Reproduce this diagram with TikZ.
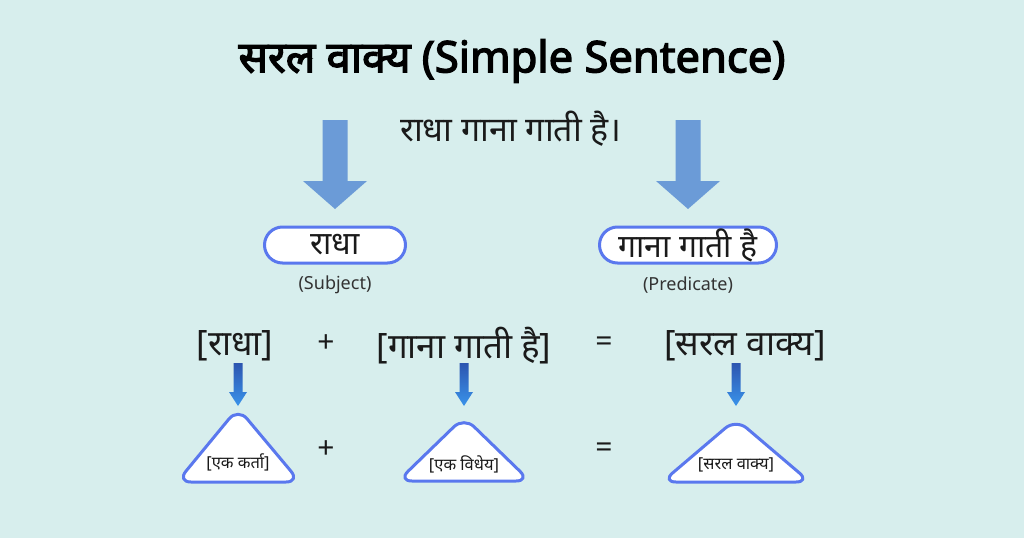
\documentclass[tikz,border=0pt]{standalone}
\usepackage{fontspec}
\setmainfont{Noto Sans}
\newfontfamily\deva[Script=Devanagari]{Noto Sans}
\newfontfamily\devabold[Script=Devanagari,FakeBold=3]{Noto Sans}
\definecolor{bgc}{HTML}{D7EEED}
\definecolor{bigarrow}{HTML}{6B9BD7}
\definecolor{pillblue}{HTML}{5A78EE}
\definecolor{sadark}{HTML}{2C55B0}
\definecolor{salight}{HTML}{3A93EA}
\definecolor{txt}{HTML}{1A1A1A}
\definecolor{subtxt}{HTML}{333333}
\tikzset{
  x=1pt, y=-1pt,
  pill/.style={draw=pillblue, line width=3pt, fill=white, rounded corners=18pt,
    minimum height=36pt, inner sep=0pt, font=\deva\fontsize{32}{36}\selectfont, text=txt},
  sublabel/.style={font=\deva\fontsize{18}{21}\selectfont, text=subtxt},
  rowtext/.style={font=\deva\fontsize{35}{40}\selectfont, text=txt},
  optext/.style={font=\deva\fontsize{30}{34}\selectfont, text=txt},
  tritext/.style={font=\deva\fontsize{16.5}{19}\selectfont, text=txt},
  tri/.style={draw=pillblue, line width=3pt, fill=white, rounded corners=14pt, line join=round},
  bigarr/.style={fill=bigarrow},
  smallarr/.style={top color=sadark, bottom color=salight},
  bigarrowpic/.pic={\fill[bigarr] (-12.5,0)--(12.5,0)--(12.5,61)--(32,61)--(0,89)--(-32,61)--(-12.5,61)--cycle;},
  smallarrowpic/.pic={\shade[smallarr] (-4.5,0)--(4.5,0)--(4.5,29)--(9,29)--(0,43)--(-9,29)--(-4.5,29)--cycle;}
}
\begin{document}
\begin{tikzpicture}
\fill[bgc] (0,0) rectangle (1024,538);
\useasboundingbox (0,0) rectangle (1024,538);

\node[font=\devabold\fontsize{43.5}{50}\selectfont, text=black] (title) at (512,61) {सरल वाक्य (Simple Sentence)};
\node[font=\deva\fontsize{34}{40}\selectfont, text=txt] (sentence) at (511,129) {राधा गाना गाती है।};

\pic at (335,120) {bigarrowpic};
\pic at (688,120) {bigarrowpic};

\node[pill, minimum width=141pt] (subj) at (335,245) {\raisebox{-2.5pt}{राधा}};
\node[pill, minimum width=177pt] (pred) at (688,245) {\raisebox{-2.5pt}{गाना गाती है}};
\node[sublabel] (subjlab) at (335,285) {(Subject)};
\node[sublabel] (predlab) at (688,285) {(Predicate)};

\node[rowtext] (r1) at (235,346) {[राधा]};
\node[optext] (plus1) at (326,344) {+};
\node[rowtext] (r2) at (464,346) {[गाना गाती है]};
\node[optext] (eq1) at (604,344) {=};
\node[rowtext] (r3) at (745,346) {[सरल वाक्य]};

\pic at (238,363) {smallarrowpic};
\pic at (464,363) {smallarrowpic};
\pic at (736,363) {smallarrowpic};

\draw[tri] (238,408) -- (300,482) -- (177,482) -- cycle;
\draw[tri] (464,417) -- (530,481) -- (398,481) -- cycle;
\draw[tri] (736,419) -- (810,482) -- (662,482) -- cycle;

\node[tritext] (t1) at (238,462) {[एक कर्ता]};
\node[optext] (plus2) at (326,450) {+};
\node[tritext] (t2) at (464,464) {[एक विधेय]};
\node[optext] (eq2) at (604,450) {=};
\node[tritext] (t3) at (736,465) {[सरल वाक्य]};
\end{tikzpicture}
\end{document}
